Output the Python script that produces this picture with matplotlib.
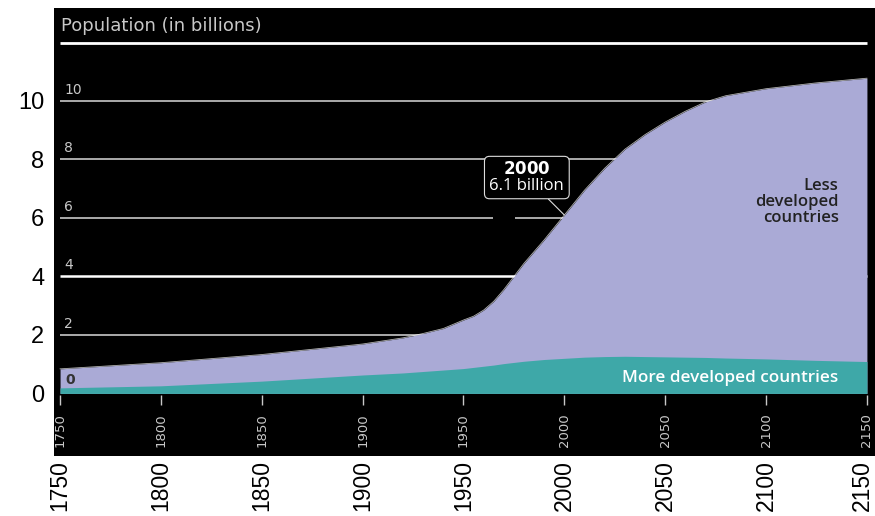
import numpy as np
import matplotlib
matplotlib.use('Agg')
import matplotlib.pyplot as plt
import matplotlib.transforms as mtransforms

# world population, billions
years = [1750, 1800, 1850, 1900, 1920, 1930, 1940, 1950, 1955, 1960, 1965, 1970,
         1975, 1980, 1990, 2000, 2010, 2020, 2030, 2040, 2050, 2060, 2070, 2080,
         2100, 2125, 2150]
more_dev = [0.19, 0.26, 0.42, 0.63, 0.70, 0.75, 0.80, 0.85, 0.89, 0.93, 0.97, 1.02,
            1.06, 1.10, 1.16, 1.20, 1.24, 1.26, 1.27, 1.26, 1.25, 1.24, 1.23, 1.21,
            1.18, 1.13, 1.09]
less_dev = [0.65, 0.79, 0.91, 1.06, 1.20, 1.30, 1.42, 1.66, 1.75, 1.92, 2.18, 2.53,
            2.94, 3.35, 4.09, 4.90, 5.71, 6.44, 7.08, 7.59, 8.03, 8.41, 8.74, 8.97,
            9.24, 9.49, 9.69]

tick_years = [1750, 1800, 1850, 1900, 1950, 2000, 2050, 2100, 2150]
grid_vals = [2, 4, 6, 8, 10]
callout_year = 2000

teal = '#3ea8a8'
lavender = '#aaaad6'
inner_grey = '#c8c8c8'

yrs = np.array(years)
more = np.array(more_dev)
total = more + np.array(less_dev)

fig = plt.figure(figsize=(8.75, 5.16), dpi=100)
ax = fig.add_axes([54/875, 60/516, 821/875, 448/516])
ax.set_facecolor('black')
for s in ax.spines.values():
    s.set_visible(False)

ax.set_xlim(1747, 2154)
ax.set_ylim(-2.14, 13.18)

# horizontal guide lines (6 and 8 are broken around the callout)
x0, x1 = tick_years[0], tick_years[-1]
for v in grid_vals:
    c = 'white' if v == 4 else '#c8c8c8'
    lw = 1.8 if v == 4 else 1.2
    if v in (6, 8):
        ax.hlines(v, x0, 1964.5, color=c, lw=lw, zorder=1)
        ax.hlines(v, 1975.5, x1, color=c, lw=lw, zorder=1)
    else:
        ax.hlines(v, x0, x1, color=c, lw=lw, zorder=1)
    ax.text(x0 + 2, v + 0.15, str(v), color=inner_grey, fontsize=10,
            ha='left', va='bottom', zorder=2)
ax.hlines(12, x0, x1, color='white', lw=2, zorder=1)
ax.text(x0 + 0.5, 12.25, 'Population (in billions)', color=inner_grey,
        fontsize=13, ha='left', va='bottom')

# stacked areas
ax.fill_between(yrs, 0, total, color=lavender, lw=0, zorder=3)
ax.plot(yrs, total, color='white', lw=0.6, alpha=0.7, zorder=3)
ax.fill_between(yrs, 0, more, color=teal, lw=0, zorder=4)
ax.text(x0 + 2.5, 0.45, '0', color='#333333', fontsize=10, fontweight='bold',
        ha='left', va='center', zorder=5)

ax.text(2136, 6.55, 'Less\ndeveloped\ncountries', color='#222222',
        fontsize=12, fontfamily='Open Sans', fontweight='semibold',
        ha='right', va='center', linespacing=1.0, zorder=5)
ax.text(2136, 0.52, 'More developed countries', color='white',
        fontsize=12.3, fontfamily='Open Sans', fontweight='semibold',
        ha='right', va='center', zorder=5)

# callout for 2000
i = years.index(callout_year)
ax.annotate(f'$\\bf{{{callout_year}}}$\n{total[i]:.1f} billion',
            xy=(callout_year, total[i]), xytext=(-27, 27),
            textcoords='offset points', ha='center', va='center',
            color='white', fontsize=12, fontfamily='Open Sans', linespacing=0.95,
            bbox=dict(boxstyle='round,pad=0.3', fc='black', ec='#dddddd', lw=0.8),
            arrowprops=dict(arrowstyle='-', color='#dddddd', lw=0.8,
                            shrinkA=0, shrinkB=0),
            zorder=6)

# small ticks and year labels inside the panel
ax.vlines(tick_years, -0.4, -0.05, color=inner_grey, lw=1, zorder=2)
for yr in tick_years:
    ax.text(yr, -1.25, str(yr), rotation=90, color=inner_grey, fontsize=9.5,
            ha='center', va='center')

ax.set_xticks(tick_years)
ax.set_xticklabels([str(y) for y in tick_years], rotation=90,
                   fontfamily='Liberation Sans', fontsize=16.5)
ax.set_yticks([0] + grid_vals)
ax.set_yticklabels([str(v) for v in [0] + grid_vals],
                   fontfamily='Liberation Sans', fontsize=17)
ax.tick_params(axis='x', length=0, pad=3)
ax.tick_params(axis='y', length=0, pad=7)

# nudge the last year label so it stays inside the figure
last = ax.get_xticklabels()[-1]
last.set_transform(last.get_transform() +
                   mtransforms.ScaledTranslation(-3/72, 0, fig.dpi_scale_trans))

fig.savefig('out.png', dpi=100)
